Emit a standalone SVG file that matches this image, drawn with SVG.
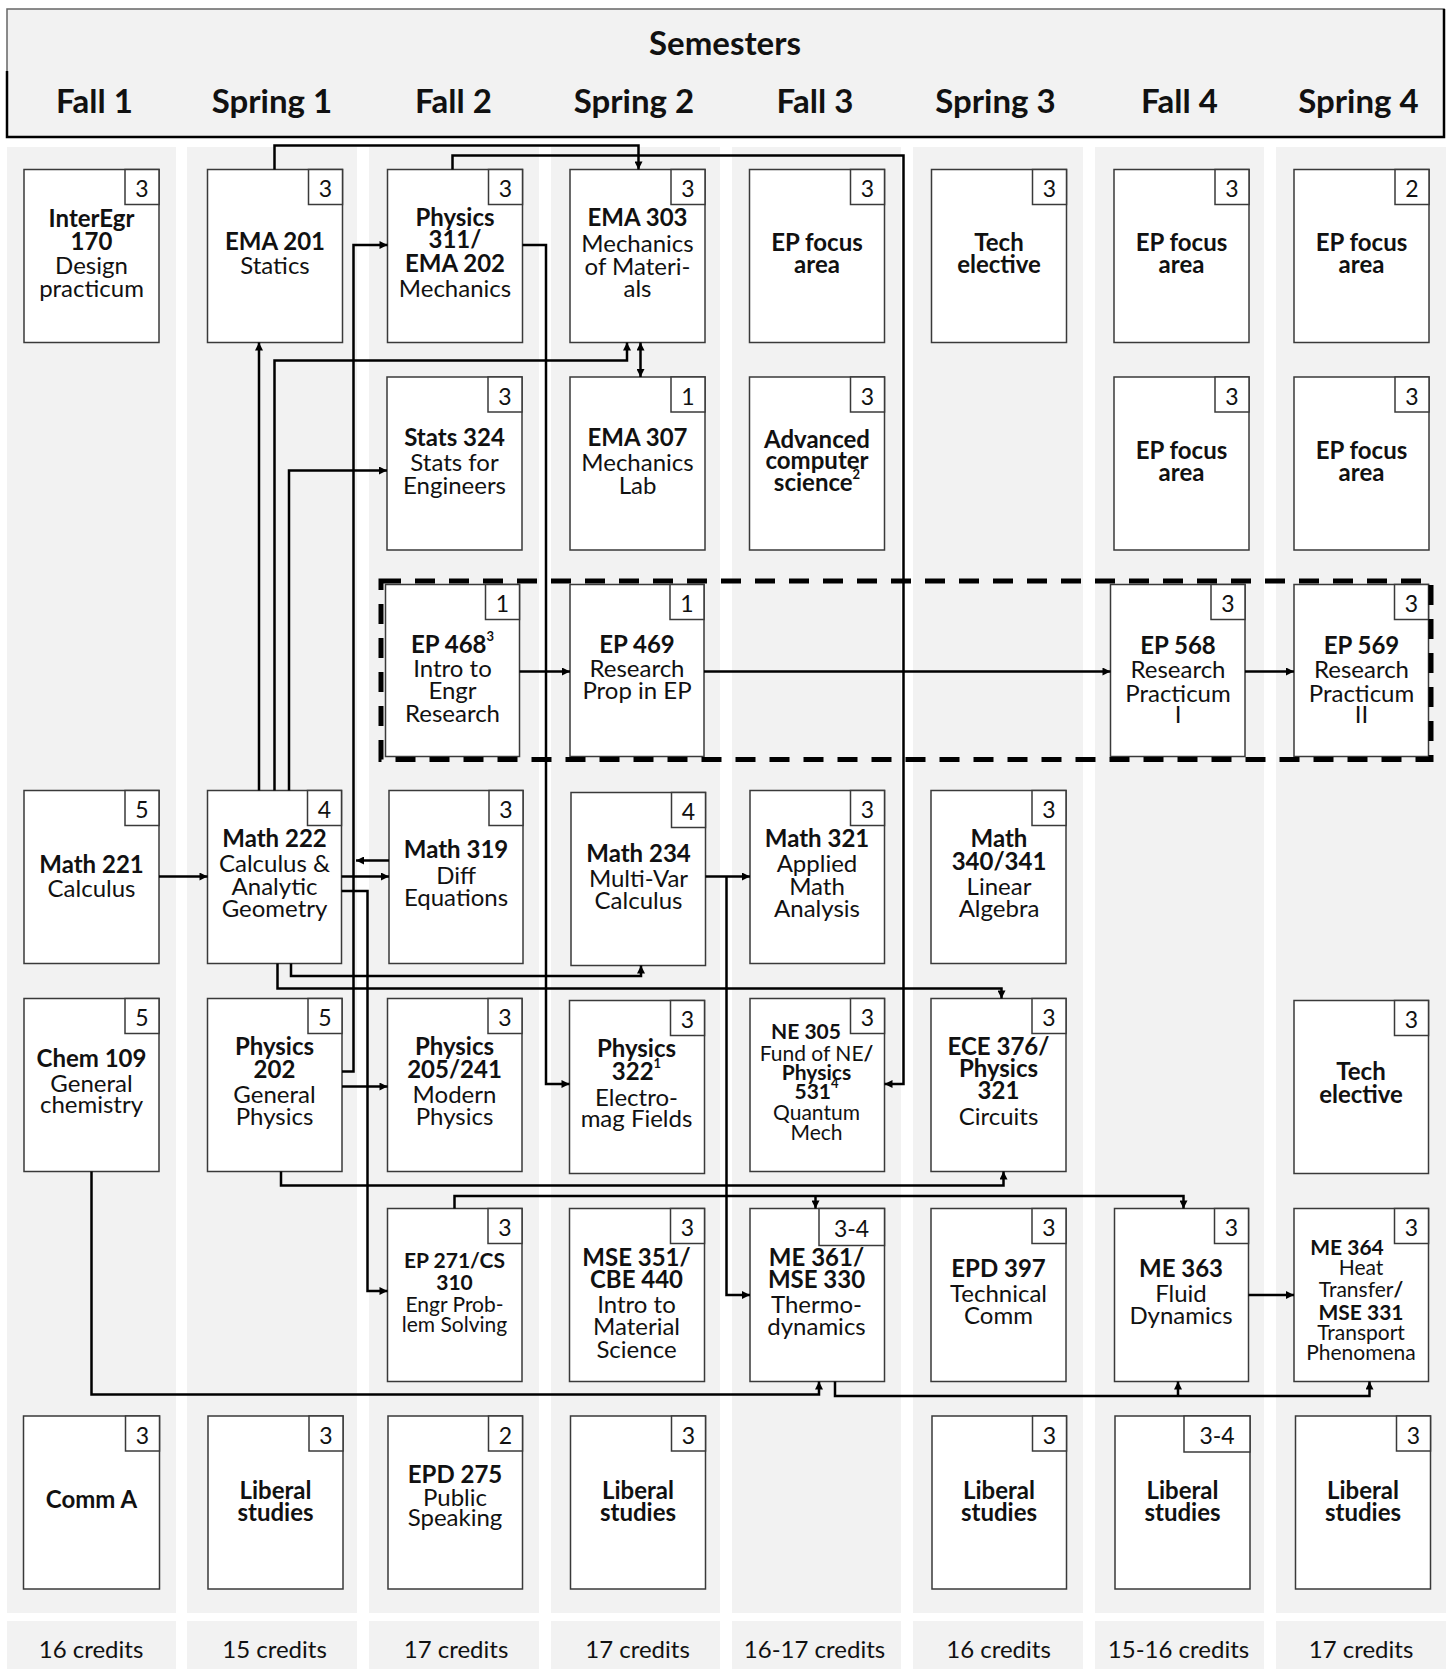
<svg xmlns="http://www.w3.org/2000/svg" width="1447" height="1669" viewBox="0 0 1447 1669">
<style>
.strip{fill:#f2f2f2}
.box{fill:#fff;stroke:#3a3a3a;stroke-width:1.5}
text{font-family:Lato,"Open Sans","Liberation Sans",sans-serif;fill:#111;text-anchor:middle}
.b{font-weight:700;font-size:24px}
.r{font-weight:400;font-size:24px}
.sb{font-weight:700;font-size:21px}
.sr{font-weight:400;font-size:21px}
.n{font-weight:400;font-size:23px}
.h{font-weight:700;font-size:33px}
.c{font-weight:400;font-size:24px}
.sup{font-weight:700;font-size:13px}
.conn path{fill:none;stroke:#000;stroke-width:2.5;marker-end:url(#ah)}
.dash{fill:none;stroke:#000;stroke-width:5;stroke-dasharray:20 14}
</style>
<defs>
<marker id="ah" viewBox="0 0 10 10" refX="10" refY="5" markerWidth="9" markerHeight="8" markerUnits="userSpaceOnUse" orient="auto-start-reverse"><path d="M0,0 L10,5 L0,10 z" fill="#000"/></marker>
</defs>
<rect width="1447" height="1669" fill="#fff"/>
<g id="header">
<rect x="7" y="9" width="1437" height="128" fill="#f2f2f2" stroke="#666" stroke-width="1.5"/>
<path d="M7,71 V137 H1444 V9" fill="none" stroke="#000" stroke-width="2.5"/>
<text class="h" x="725" y="55">Semesters</text>
<text class="h" x="94.5" y="112.5">Fall 1</text>
<text class="h" x="272" y="112.5">Spring 1</text>
<text class="h" x="453.5" y="112.5">Fall 2</text>
<text class="h" x="634" y="112.5">Spring 2</text>
<text class="h" x="815" y="112.5">Fall 3</text>
<text class="h" x="995.5" y="112.5">Spring 3</text>
<text class="h" x="1179.5" y="112.5">Fall 4</text>
<text class="h" x="1358.5" y="112.5">Spring 4</text>
</g>
<g id="strips">
<rect class="strip" x="7" y="147" width="169" height="1466"/>
<rect class="strip" x="187" y="147" width="170" height="1466"/>
<rect class="strip" x="369" y="147" width="170" height="1466"/>
<rect class="strip" x="551" y="147" width="169" height="1466"/>
<rect class="strip" x="732" y="147" width="169" height="1466"/>
<rect class="strip" x="913" y="147" width="170" height="1466"/>
<rect class="strip" x="1095" y="147" width="169" height="1466"/>
<rect class="strip" x="1276" y="147" width="170" height="1466"/>
<rect class="strip" x="7" y="1621" width="169" height="48"/>
<rect class="strip" x="187" y="1621" width="170" height="48"/>
<rect class="strip" x="369" y="1621" width="170" height="48"/>
<rect class="strip" x="551" y="1621" width="169" height="48"/>
<rect class="strip" x="732" y="1621" width="169" height="48"/>
<rect class="strip" x="913" y="1621" width="170" height="48"/>
<rect class="strip" x="1095" y="1621" width="169" height="48"/>
<rect class="strip" x="1276" y="1621" width="170" height="48"/>
</g>
<g id="credits">
<text class="c" x="91" y="1658">16 credits</text>
<text class="c" x="274.5" y="1658">15 credits</text>
<text class="c" x="456" y="1658">17 credits</text>
<text class="c" x="637.5" y="1658">17 credits</text>
<text class="c" x="814.5" y="1658">16-17 credits</text>
<text class="c" x="998.5" y="1658">16 credits</text>
<text class="c" x="1178.5" y="1658">15-16 credits</text>
<text class="c" x="1361" y="1658">17 credits</text>
</g>

<!-- Row 1 -->
<g id="interegr170">
<rect class="box" x="24" y="169.5" width="135" height="173"/>
<rect class="box" x="125" y="169.5" width="34" height="35"/><text class="n" x="142" y="197">3</text>
<text class="b" x="91.5" y="227">InterEgr</text>
<text class="b" x="91.5" y="250">170</text>
<text class="r" x="91.5" y="274">Design</text>
<text class="r" x="91.5" y="297">practicum</text>
</g>
<g id="ema201">
<rect class="box" x="207.5" y="169.5" width="135" height="173"/>
<rect class="box" x="308.5" y="169.5" width="34" height="35"/><text class="n" x="325.5" y="197">3</text>
<text class="b" x="275" y="250">EMA 201</text>
<text class="r" x="275" y="274">Statics</text>
</g>
<g id="physics311">
<rect class="box" x="387.5" y="169.5" width="135" height="173"/>
<rect class="box" x="488.5" y="169.5" width="34" height="35"/><text class="n" x="505.5" y="197">3</text>
<text class="b" x="455" y="226">Physics</text>
<text class="b" x="455" y="248">311/</text>
<text class="b" x="455" y="272">EMA 202</text>
<text class="r" x="455" y="297">Mechanics</text>
</g>
<g id="ema303">
<rect class="box" x="570" y="169.5" width="135" height="173"/>
<rect class="box" x="671" y="169.5" width="34" height="35"/><text class="n" x="688" y="197">3</text>
<text class="b" x="637.5" y="226">EMA 303</text>
<text class="r" x="637.5" y="251.5">Mechanics</text>
<text class="r" x="637.5" y="275">of Materi-</text>
<text class="r" x="637.5" y="296.5">als</text>
</g>
<g id="epfocus-f3">
<rect class="box" x="749.5" y="169.5" width="135" height="173"/>
<rect class="box" x="850.5" y="169.5" width="34" height="35"/><text class="n" x="867.5" y="197">3</text>
<text class="b" x="817" y="251">EP focus</text>
<text class="b" x="817" y="273">area</text>
</g>
<g id="techelective-s3">
<rect class="box" x="931.5" y="169.5" width="135" height="173"/>
<rect class="box" x="1032.5" y="169.5" width="34" height="35"/><text class="n" x="1049.5" y="197">3</text>
<text class="b" x="999" y="251">Tech</text>
<text class="b" x="999" y="273">elective</text>
</g>
<g id="epfocus-f4a">
<rect class="box" x="1114" y="169.5" width="135" height="173"/>
<rect class="box" x="1215" y="169.5" width="34" height="35"/><text class="n" x="1232" y="197">3</text>
<text class="b" x="1181.5" y="251">EP focus</text>
<text class="b" x="1181.5" y="273">area</text>
</g>
<g id="epfocus-s4a">
<rect class="box" x="1294" y="169.5" width="135" height="173"/>
<rect class="box" x="1395" y="169.5" width="34" height="35"/><text class="n" x="1412" y="197">2</text>
<text class="b" x="1361.5" y="251">EP focus</text>
<text class="b" x="1361.5" y="273">area</text>
</g>

<!-- Row 2 -->
<g id="stats324">
<rect class="box" x="387" y="377" width="135" height="173"/>
<rect class="box" x="488" y="377" width="34" height="35"/><text class="n" x="505" y="404.5">3</text>
<text class="b" x="454.5" y="446">Stats 324</text>
<text class="r" x="454.5" y="471">Stats for</text>
<text class="r" x="454.5" y="494">Engineers</text>
</g>
<g id="ema307">
<rect class="box" x="570" y="377" width="135" height="173"/>
<rect class="box" x="671" y="377" width="34" height="35"/><text class="n" x="688" y="404.5">1</text>
<text class="b" x="637.5" y="446">EMA 307</text>
<text class="r" x="637.5" y="471">Mechanics</text>
<text class="r" x="637.5" y="494">Lab</text>
</g>
<g id="advcs">
<rect class="box" x="749.5" y="377" width="135" height="173"/>
<rect class="box" x="850.5" y="377" width="34" height="35"/><text class="n" x="867.5" y="404.5">3</text>
<text class="b" x="817" y="447.5">Advanced</text>
<text class="b" x="817" y="468.5">computer</text>
<text class="b" x="817" y="491">science<tspan class="sup" dy="-12">2</tspan></text>
</g>
<g id="epfocus-f4b">
<rect class="box" x="1114" y="377" width="135" height="173"/>
<rect class="box" x="1215" y="377" width="34" height="35"/><text class="n" x="1232" y="404.5">3</text>
<text class="b" x="1181.5" y="459">EP focus</text>
<text class="b" x="1181.5" y="480.5">area</text>
</g>
<g id="epfocus-s4b">
<rect class="box" x="1294" y="377" width="135" height="173"/>
<rect class="box" x="1395" y="377" width="34" height="35"/><text class="n" x="1412" y="404.5">3</text>
<text class="b" x="1361.5" y="459">EP focus</text>
<text class="b" x="1361.5" y="480.5">area</text>
</g>

<!-- Row 3 -->
<g id="ep468">
<rect class="box" x="385.5" y="584.5" width="134" height="172"/>
<rect class="box" x="485.5" y="584.5" width="34" height="35"/><text class="n" x="502.5" y="612">1</text>
<text class="b" x="452.5" y="653">EP 468<tspan class="sup" dy="-12">3</tspan></text>
<text class="r" x="452.5" y="677">Intro to</text>
<text class="r" x="452.5" y="699">Engr</text>
<text class="r" x="452.5" y="722">Research</text>
</g>
<g id="ep469">
<rect class="box" x="570" y="584.5" width="134" height="172"/>
<rect class="box" x="670" y="584.5" width="34" height="35"/><text class="n" x="687" y="612">1</text>
<text class="b" x="637" y="653">EP 469</text>
<text class="r" x="637" y="677">Research</text>
<text class="r" x="637" y="699">Prop in EP</text>
</g>
<g id="ep568">
<rect class="box" x="1110.5" y="584.5" width="134.5" height="172"/>
<rect class="box" x="1211" y="584.5" width="34" height="35"/><text class="n" x="1228" y="612">3</text>
<text class="b" x="1178" y="654">EP 568</text>
<text class="r" x="1178" y="678">Research</text>
<text class="r" x="1178" y="701.5">Practicum</text>
<text class="r" x="1178" y="723">I</text>
</g>
<g id="ep569">
<rect class="box" x="1294" y="584.5" width="134.5" height="172"/>
<rect class="box" x="1394.5" y="584.5" width="34" height="35"/><text class="n" x="1411.5" y="612">3</text>
<text class="b" x="1361.5" y="654">EP 569</text>
<text class="r" x="1361.5" y="678">Research</text>
<text class="r" x="1361.5" y="701.5">Practicum</text>
<text class="r" x="1361.5" y="723">II</text>
</g>

<!-- Row 4 -->
<g id="math221">
<rect class="box" x="24" y="790.5" width="135" height="173"/>
<rect class="box" x="125" y="790.5" width="34" height="35"/><text class="n" x="142" y="818">5</text>
<text class="b" x="91.5" y="873">Math 221</text>
<text class="r" x="91.5" y="897">Calculus</text>
</g>
<g id="math222">
<rect class="box" x="207.5" y="790.5" width="134" height="173"/>
<rect class="box" x="307.5" y="790.5" width="34" height="35"/><text class="n" x="324.5" y="818">4</text>
<text class="b" x="274.5" y="847">Math 222</text>
<text class="r" x="274.5" y="872">Calculus &amp;</text>
<text class="r" x="274.5" y="894.5">Analytic</text>
<text class="r" x="274.5" y="917">Geometry</text>
</g>
<g id="math319">
<rect class="box" x="389" y="790.5" width="134" height="173"/>
<rect class="box" x="489" y="790.5" width="34" height="35"/><text class="n" x="506" y="818">3</text>
<text class="b" x="456" y="858">Math 319</text>
<text class="r" x="456" y="884">Diff</text>
<text class="r" x="456" y="906">Equations</text>
</g>
<g id="math234">
<rect class="box" x="571" y="792.5" width="134.5" height="173"/>
<rect class="box" x="671.5" y="792.5" width="34" height="35"/><text class="n" x="688.5" y="820">4</text>
<text class="b" x="638.5" y="861.5">Math 234</text>
<text class="r" x="638.5" y="886.5">Multi-Var</text>
<text class="r" x="638.5" y="909">Calculus</text>
</g>
<g id="math321">
<rect class="box" x="750" y="790.5" width="134.5" height="173"/>
<rect class="box" x="850.5" y="790.5" width="34" height="35"/><text class="n" x="867.5" y="818">3</text>
<text class="b" x="817" y="847">Math 321</text>
<text class="r" x="817" y="871.5">Applied</text>
<text class="r" x="817" y="895">Math</text>
<text class="r" x="817" y="916.5">Analysis</text>
</g>
<g id="math340">
<rect class="box" x="931" y="790.5" width="135" height="173"/>
<rect class="box" x="1032" y="790.5" width="34" height="35"/><text class="n" x="1049" y="818">3</text>
<text class="b" x="999" y="847">Math</text>
<text class="b" x="999" y="870">340/341</text>
<text class="r" x="999" y="895">Linear</text>
<text class="r" x="999" y="916.5">Algebra</text>
</g>

<!-- Row 5 -->
<g id="chem109">
<rect class="box" x="24" y="998.5" width="135" height="173"/>
<rect class="box" x="125" y="998.5" width="34" height="35"/><text class="n" x="142" y="1026">5</text>
<text class="b" x="91.5" y="1066.5">Chem 109</text>
<text class="r" x="91.5" y="1091.5">General</text>
<text class="r" x="91.5" y="1113">chemistry</text>
</g>
<g id="physics202">
<rect class="box" x="207.5" y="998.5" width="134.5" height="173"/>
<rect class="box" x="308" y="998.5" width="34" height="35"/><text class="n" x="325" y="1026">5</text>
<text class="b" x="274.5" y="1055">Physics</text>
<text class="b" x="274.5" y="1078">202</text>
<text class="r" x="274.5" y="1103">General</text>
<text class="r" x="274.5" y="1125">Physics</text>
</g>
<g id="physics205">
<rect class="box" x="387.5" y="998.5" width="134.5" height="173"/>
<rect class="box" x="488" y="998.5" width="34" height="35"/><text class="n" x="505" y="1026">3</text>
<text class="b" x="454.5" y="1055">Physics</text>
<text class="b" x="454.5" y="1078">205/241</text>
<text class="r" x="454.5" y="1103">Modern</text>
<text class="r" x="454.5" y="1125">Physics</text>
</g>
<g id="physics322">
<rect class="box" x="569.5" y="1000.5" width="135" height="173"/>
<rect class="box" x="670.5" y="1000.5" width="34" height="35"/><text class="n" x="687.5" y="1028">3</text>
<text class="b" x="636.5" y="1057">Physics</text>
<text class="b" x="636.5" y="1080">322<tspan class="sup" dy="-12">1</tspan></text>
<text class="r" x="636.5" y="1106">Electro-</text>
<text class="r" x="636.5" y="1126.5">mag Fields</text>
</g>
<g id="ne305">
<rect class="box" x="750" y="998.5" width="134.5" height="173"/>
<rect class="box" x="850.5" y="998.5" width="34" height="35"/><text class="n" x="867.5" y="1026">3</text>
<text class="sb" x="806" y="1039">NE 305</text>
<text class="sr" x="816.5" y="1060.5">Fund of NE<tspan font-weight="700">/</tspan></text>
<text class="sb" x="816.5" y="1080">Physics</text>
<text class="sb" x="816.5" y="1099">531<tspan class="sup" dy="-11">4</tspan></text>
<text class="sr" x="816.5" y="1120">Quantum</text>
<text class="sr" x="816.5" y="1140">Mech</text>
</g>
<g id="ece376">
<rect class="box" x="931" y="998.5" width="135" height="173"/>
<rect class="box" x="1032" y="998.5" width="34" height="35"/><text class="n" x="1049" y="1026">3</text>
<text class="b" x="998.5" y="1055">ECE 376/</text>
<text class="b" x="998.5" y="1077">Physics</text>
<text class="b" x="998.5" y="1099">321</text>
<text class="r" x="998.5" y="1125">Circuits</text>
</g>
<g id="techelective-s4">
<rect class="box" x="1294" y="1000.5" width="134.5" height="173"/>
<rect class="box" x="1394.5" y="1000.5" width="34" height="35"/><text class="n" x="1411.5" y="1028">3</text>
<text class="b" x="1361" y="1080">Tech</text>
<text class="b" x="1361" y="1103">elective</text>
</g>

<!-- Row 6 -->
<g id="ep271">
<rect class="box" x="387.5" y="1208.5" width="134.5" height="173"/>
<rect class="box" x="488" y="1208.5" width="34" height="35"/><text class="n" x="505" y="1236">3</text>
<text class="sb" x="454.5" y="1268">EP 271/CS</text>
<text class="sb" x="454.5" y="1290">310</text>
<text class="sr" x="454.5" y="1311.5">Engr Prob-</text>
<text class="sr" x="454.5" y="1331.5">lem Solving</text>
</g>
<g id="mse351">
<rect class="box" x="569.5" y="1208.5" width="135" height="173"/>
<rect class="box" x="670.5" y="1208.5" width="34" height="35"/><text class="n" x="687.5" y="1236">3</text>
<text class="b" x="636.5" y="1266">MSE 351/</text>
<text class="b" x="636.5" y="1288">CBE 440</text>
<text class="r" x="636.5" y="1313">Intro to</text>
<text class="r" x="636.5" y="1335">Material</text>
<text class="r" x="636.5" y="1358">Science</text>
</g>
<g id="me361">
<rect class="box" x="750" y="1208.5" width="134.5" height="173"/>
<rect class="box" x="819" y="1208.5" width="65.5" height="37"/><text class="n" x="851.5" y="1237">3-4</text>
<text class="b" x="816.5" y="1266">ME 361/</text>
<text class="b" x="816.5" y="1288">MSE 330</text>
<text class="r" x="816.5" y="1313">Thermo-</text>
<text class="r" x="816.5" y="1335">dynamics</text>
</g>
<g id="epd397">
<rect class="box" x="931" y="1208.5" width="135" height="173"/>
<rect class="box" x="1032" y="1208.5" width="34" height="35"/><text class="n" x="1049" y="1236">3</text>
<text class="b" x="998.5" y="1276.5">EPD 397</text>
<text class="r" x="998.5" y="1301.5">Technical</text>
<text class="r" x="998.5" y="1324">Comm</text>
</g>
<g id="me363">
<rect class="box" x="1114.5" y="1208.5" width="134" height="173"/>
<rect class="box" x="1214.5" y="1208.5" width="34" height="35"/><text class="n" x="1231.5" y="1236">3</text>
<text class="b" x="1181" y="1276.5">ME 363</text>
<text class="r" x="1181" y="1301.5">Fluid</text>
<text class="r" x="1181" y="1324">Dynamics</text>
</g>
<g id="me364">
<rect class="box" x="1294" y="1208.5" width="134.5" height="173"/>
<rect class="box" x="1394.5" y="1208.5" width="34" height="35"/><text class="n" x="1411.5" y="1236">3</text>
<text class="sb" x="1347" y="1255">ME 364</text>
<text class="sr" x="1361" y="1275">Heat</text>
<text class="sr" x="1361" y="1296.5">Transfer<tspan font-weight="700">/</tspan></text>
<text class="sb" x="1361" y="1320">MSE 331</text>
<text class="sr" x="1361" y="1340">Transport</text>
<text class="sr" x="1361" y="1360">Phenomena</text>
</g>

<!-- Row 7 -->
<g id="comma">
<rect class="box" x="23.5" y="1416" width="136" height="173"/>
<rect class="box" x="125.5" y="1416" width="34" height="35"/><text class="n" x="142.5" y="1443.5">3</text>
<text class="b" x="91.5" y="1508">Comm A</text>
</g>
<g id="liberal-s1">
<rect class="box" x="208" y="1416" width="135" height="173"/>
<rect class="box" x="309" y="1416" width="34" height="35"/><text class="n" x="326" y="1443.5">3</text>
<text class="b" x="275.5" y="1499">Liberal</text>
<text class="b" x="275.5" y="1520.5">studies</text>
</g>
<g id="epd275">
<rect class="box" x="388" y="1416" width="134.5" height="173"/>
<rect class="box" x="488.5" y="1416" width="34" height="35"/><text class="n" x="505.5" y="1443.5">2</text>
<text class="b" x="455" y="1483">EPD 275</text>
<text class="r" x="455" y="1506">Public</text>
<text class="r" x="455" y="1526">Speaking</text>
</g>
<g id="liberal-s2">
<rect class="box" x="570.5" y="1416" width="135" height="173"/>
<rect class="box" x="671.5" y="1416" width="34" height="35"/><text class="n" x="688.5" y="1443.5">3</text>
<text class="b" x="638" y="1499">Liberal</text>
<text class="b" x="638" y="1520.5">studies</text>
</g>
<g id="liberal-s3">
<rect class="box" x="932" y="1416" width="134.5" height="173"/>
<rect class="box" x="1032.5" y="1416" width="34" height="35"/><text class="n" x="1049.5" y="1443.5">3</text>
<text class="b" x="999" y="1499">Liberal</text>
<text class="b" x="999" y="1520.5">studies</text>
</g>
<g id="liberal-f4">
<rect class="box" x="1115" y="1416" width="135" height="173"/>
<rect class="box" x="1184" y="1416" width="66" height="36"/><text class="n" x="1217" y="1444">3-4</text>
<text class="b" x="1182.5" y="1499">Liberal</text>
<text class="b" x="1182.5" y="1520.5">studies</text>
</g>
<g id="liberal-s4">
<rect class="box" x="1295.5" y="1416" width="135" height="173"/>
<rect class="box" x="1396.5" y="1416" width="34" height="35"/><text class="n" x="1413.5" y="1443.5">3</text>
<text class="b" x="1363" y="1499">Liberal</text>
<text class="b" x="1363" y="1520.5">studies</text>
</g>

<rect id="research-track" class="dash" x="381" y="581" width="1050" height="178.5"/>

<g id="connectors" class="conn">
<path d="M274.5,169.5 V145.5 H638.5 V169.5"/>
<path d="M452.5,169.5 V155.5 H903.5 V1084 H884.5"/>
<path d="M259,790.5 V342.5"/>
<path d="M274.5,790.5 V360.5 H627 V342.5"/>
<path d="M289,790.5 V470.5 H387"/>
<path d="M640.5,342.5 V377" style="marker-start:url(#ah)"/>
<path d="M522.5,245 H546 V1084 H569.5"/>
<path d="M342,1071.5 H353.5 V245 H387.5"/>
<path d="M159,876.5 H207.5"/>
<path d="M389,860.5 H356"/>
<path d="M341.5,876.5 H389"/>
<path d="M341.5,891 H367.5 V1291 H387.5"/>
<path d="M291,963.5 V976 H641 V965.5"/>
<path d="M277.5,963.5 V988.5 H1001.5 V998.5"/>
<path d="M705.5,876.5 H750"/>
<path d="M726.5,876.5 V1295 H750"/>
<path d="M519.5,671.5 H570"/>
<path d="M704,671.5 H1110.5"/>
<path d="M1245,671.5 H1294"/>
<path d="M342,1086.5 H387.5"/>
<path d="M281,1171.5 V1185.5 H1003.5 V1171.5"/>
<path d="M454.5,1208.5 V1196 H1183.5 V1208.5"/>
<path d="M815.5,1196 V1208.5"/>
<path d="M91.5,1171.5 V1394.5 H819 V1381.5"/>
<path d="M835,1381.5 V1396 H1369.5 V1381.5"/>
<path d="M1178,1396 V1381.5"/>
<path d="M1248.5,1295 H1294"/>
</g>
</svg>
